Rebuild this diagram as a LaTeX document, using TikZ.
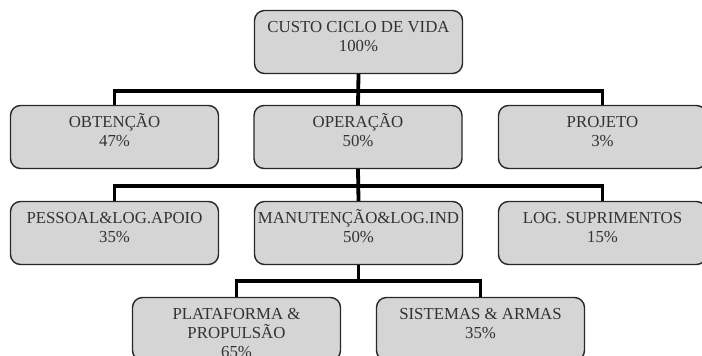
\documentclass[tikz,border=0pt]{standalone}
\usepackage{fontspec}
\setmainfont{Liberation Serif}
\usetikzlibrary{calc, positioning}

\definecolor{cinzacaixa}{RGB}{213,213,213}
\definecolor{bordacaixa}{RGB}{40,40,40}
\definecolor{textocaixa}{RGB}{50,50,50}

\newcommand{\rotulo}[1]{\parbox[c][50pt][t]{204pt}{\centering\rule{0pt}{15pt}#1}}

\tikzset{
  caixa/.style={draw=bordacaixa, line width=1.4pt, fill=cinzacaixa, rounded corners=10pt,
    minimum width=208pt, minimum height=63pt, inner sep=0pt, text=textocaixa,
    font=\fontsize{16.8}{19}\selectfont},
  liga/.style={line width=3.8pt, black},
}

\begin{document}
\begin{tikzpicture}[x=1pt, y=1pt]

  \useasboundingbox (0,0) rectangle (702,-356);
  \clip (0,0) rectangle (702,-356);

  % nivel 1
  \node[caixa] (ciclo) at (358.5,-42) {\rotulo{CUSTO CICLO DE VIDA\\100\%}};

  % nivel 2
  \node[caixa] (obten) at (114.5,-137) {\rotulo{OBTENÇÃO\\47\%}};
  \node[caixa] (opera) at (358,-137) {\rotulo{OPERAÇÃO\\50\%}};
  \node[caixa] (projeto) at (602.5,-137) {\rotulo{PROJETO\\3\%}};

  % nivel 3
  \node[caixa] (pessoal) at (114.5,-233) {\rotulo{PESSOAL\&LOG.APOIO\\35\%}};
  \node[caixa] (manut) at (358.5,-233) {\rotulo{MANUTENÇÃO\&LOG.IND\\50\%}};
  \node[caixa] (logsup) at (602.5,-233) {\rotulo{LOG. SUPRIMENTOS\\15\%}};

  % nivel 4
  \node[caixa] (plataf) at (236.5,-329) {\rotulo{PLATAFORMA \&\\PROPULSÃO\\65\%}};
  \node[caixa] (sistemas) at (480.5,-329) {\rotulo{SISTEMAS \& ARMAS\\35\%}};

  % ligacoes
  \draw[liga] (ciclo.south) -- (opera.north);
  \draw[liga] (obten.north) -- ++(0,14) -| (projeto.north);

  \draw[liga] (opera.south) -- (manut.north);
  \draw[liga] (pessoal.north) -- ++(0,15) -| (logsup.north);

  \draw[liga] (plataf.north) -- ++(0,16) coordinate (b3) -| (sistemas.north);
  \draw[liga] (manut.south) -- (manut.south |- b3);

\end{tikzpicture}
\end{document}
